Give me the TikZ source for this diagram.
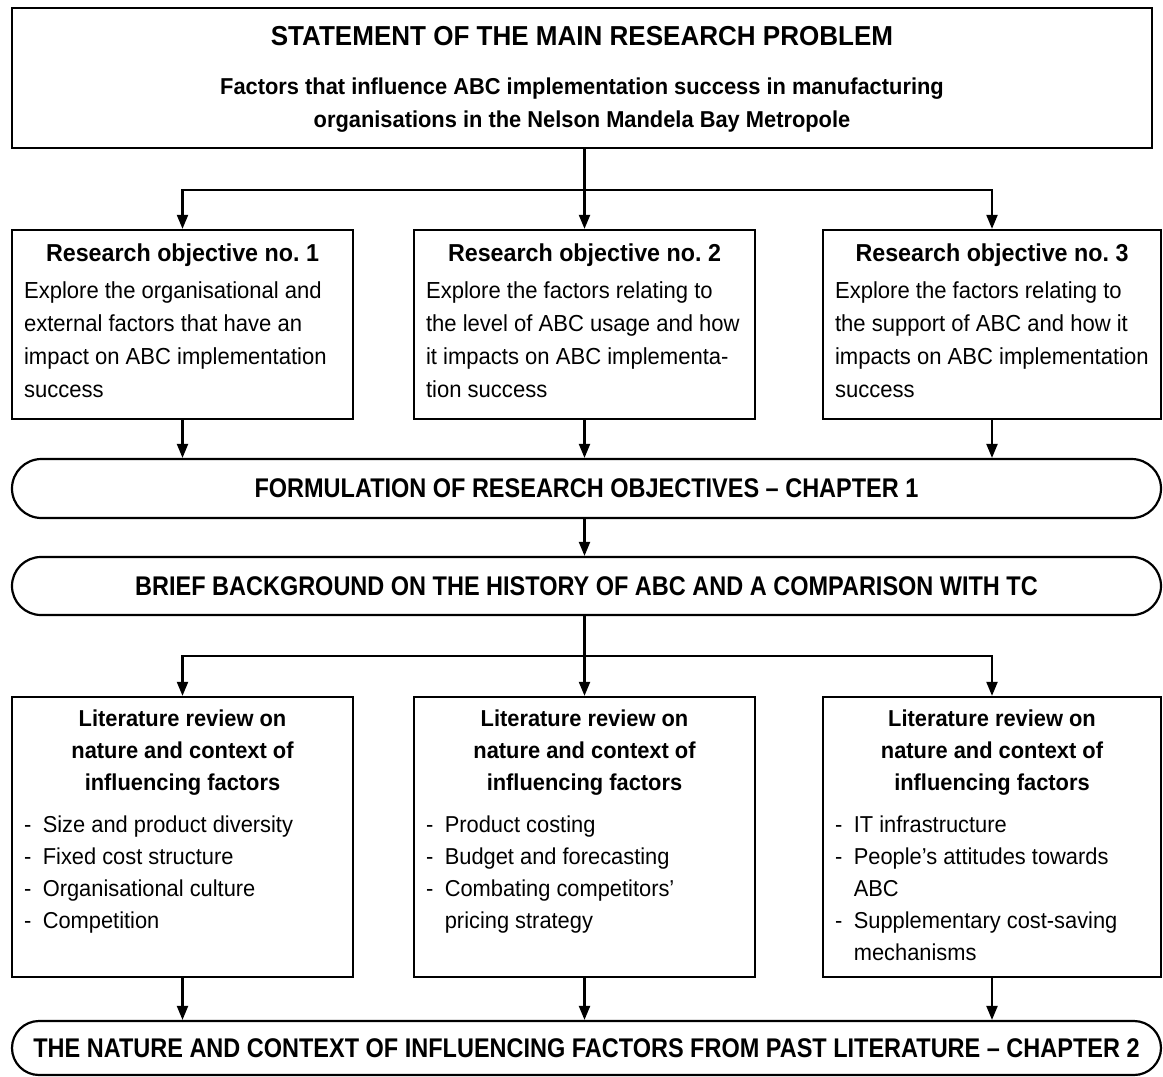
\documentclass[tikz,border=0pt]{standalone}
\usepackage{fontspec}
\setmainfont{Liberation Sans}[FakeStretch=0.95]
\newfontfamily\capsfont{Liberation Sans}[FakeStretch=0.87]
\usetikzlibrary{arrows.meta,positioning,shapes.misc}
\setlength{\parindent}{0pt}
\frenchspacing
\tikzset{>/.tip={Triangle[length=14pt,width=11pt]}}
\tikzset{
  framebox/.style={draw,line width=2.3pt,inner sep=0pt,minimum width=#1},
  objbox/.style={framebox=#1,minimum height=189pt},
  litbox/.style={framebox=#1,minimum height=280pt},
  chapbox/.style={draw,line width=2.2pt,rounded rectangle,inner sep=0pt,
    minimum width=1149pt,minimum height=#1},
  headtext/.style={inner sep=0pt,align=center,font=\bfseries\fontsize{24.5}{33}\selectfont},
  bodytext/.style={inner sep=0pt,align=left,font=\fontsize{23.2}{33}\selectfont},
  littext/.style={inner sep=0pt,align=left,font=\fontsize{23}{32}\selectfont},
  chaptext/.style={inner sep=0pt,font=\capsfont\bfseries\fontsize{27}{30}\selectfont},
  trunkline/.style={line width=2.1pt},
  arrowline/.style={line width=2.1pt,->}
}
\newcommand{\dashitem}{-\hspace{11.5pt}}
\newcommand{\dashcont}{\phantom{-}\hspace{11.5pt}}

\begin{document}
\begin{tikzpicture}[x=1pt,y=-1pt]
\useasboundingbox (0,0) rectangle (1163,1077);

% main research problem
\node[framebox=1140pt,minimum height=140pt] (prob) at (582,78) {};
\node[headtext,font=\bfseries\fontsize{27.4}{30}\selectfont,below=19.4pt of prob.north] (prob-title)
     {STATEMENT OF THE MAIN RESEARCH PROBLEM};
\node[headtext,font=\bfseries\fontsize{23}{33}\selectfont,below=70.5pt of prob.north] (prob-text)
     {Factors that influence ABC implementation success in manufacturing\\
      organisations in the Nelson Mandela Bay Metropole};

% research objectives
\node[objbox=341pt] (obj1) at (182.5,324.5) {};
\node[objbox=341pt] (obj2) at (584.5,324.5) {};
\node[objbox=338pt] (obj3) at (992,324.5) {};

\node[headtext,below=15pt of obj1.north] (obj1-head) {Research objective no. 1};
\node[headtext,below=15pt of obj2.north] (obj2-head) {Research objective no. 2};
\node[headtext,below=15pt of obj3.north] (obj3-head) {Research objective no. 3};

\node[bodytext,below right=53pt and 13pt of obj1.north west] (obj1-body)
     {Explore the organisational and\\external factors that have an\\
      impact on ABC implementation\\success};
\node[bodytext,below right=53pt and 13pt of obj2.north west] (obj2-body)
     {Explore the factors relating to\\the level of ABC usage and how\\
      it impacts on ABC implementa-\\tion success};
\node[bodytext,below right=53pt and 13pt of obj3.north west] (obj3-body)
     {Explore the factors relating to\\the support of ABC and how it\\
      impacts on ABC implementation\\success};

% chapter bars
\node[chapbox=59pt] (chap1) at (586.5,488.5) {};
\node[chaptext] (chap1-text) at (chap1) {FORMULATION OF RESEARCH OBJECTIVES – CHAPTER 1};
\node[chapbox=58pt] (chap2) at (586.5,586) {};
\node[chaptext] (chap2-text) at (chap2) {BRIEF BACKGROUND ON THE HISTORY OF ABC AND A COMPARISON WITH TC};

% literature reviews
\node[litbox=341pt] (lit1) at (182.5,837) {};
\node[litbox=341pt] (lit2) at (584.5,837) {};
\node[litbox=338pt] (lit3) at (992,837) {};

\foreach \n in {lit1,lit2,lit3}
  \node[headtext,font=\bfseries\fontsize{23}{32}\selectfont,below=14pt of \n.north] (\n-head)
       {Literature review on\\nature and context of\\influencing factors};

\node[littext,below right=120pt and 13pt of lit1.north west] (lit1-body)
     {\dashitem Size and product diversity\\\dashitem Fixed cost structure\\
      \dashitem Organisational culture\\\dashitem Competition};
\node[littext,below right=120pt and 13pt of lit2.north west] (lit2-body)
     {\dashitem Product costing\\\dashitem Budget and forecasting\\
      \dashitem Combating competitors’\\\dashcont pricing strategy};
\node[littext,below right=120pt and 13pt of lit3.north west] (lit3-body)
     {\dashitem IT infrastructure\\\dashitem People’s attitudes towards\\
      \dashcont ABC\\\dashitem Supplementary cost-saving\\\dashcont mechanisms};

\node[chapbox=54pt] (chap3) at (586.5,1048) {};
\node[chaptext] (chap3-text) at (chap3)
     {THE NATURE AND CONTEXT OF INFLUENCING FACTORS FROM PAST LITERATURE – CHAPTER 2};

% connectors
\coordinate (obj-split) at (584.5,190);
\coordinate (lit-split) at (584.5,656);
\draw[trunkline] (prob.south -| obj-split) -- (obj-split);
\foreach \n in {obj1,obj2,obj3} {
  \draw[arrowline] (obj-split) -| (\n);
  \draw[arrowline] (\n) -- (\n |- chap1.north);
}
\draw[arrowline] (chap1.south -| obj2) -- (chap2.north -| obj2);
\draw[trunkline] (chap2.south -| lit-split) -- (lit-split);
\foreach \n in {lit1,lit2,lit3} {
  \draw[arrowline] (lit-split) -| (\n);
  \draw[arrowline] (\n) -- (\n |- chap3.north);
}
\end{tikzpicture}
\end{document}
